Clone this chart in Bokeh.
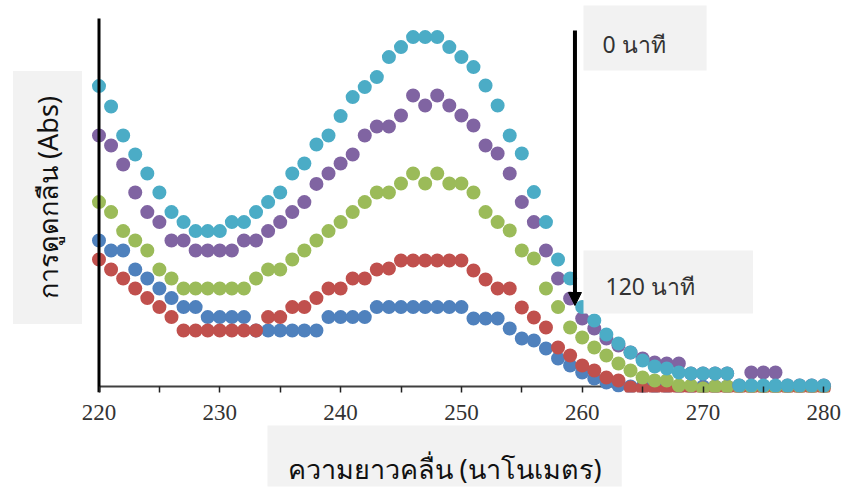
from bokeh.plotting import figure
from bokeh.models import Range1d, Label, Arrow, NormalHead, FixedTicker, Title
from bokeh.embed import file_html
from bokeh.resources import INLINE

# ---- data ----
wavelength = list(range(220, 281))

abs_0min = [1.502, 1.400, 1.255, 1.160, 1.065, 0.970, 0.872, 0.822, 0.777, 0.777,
            0.777, 0.822, 0.822, 0.872, 0.922, 0.970, 1.065, 1.115, 1.210, 1.255,
            1.352, 1.447, 1.497, 1.547, 1.647, 1.697, 1.747, 1.747, 1.747, 1.697,
            1.647, 1.597, 1.505, 1.405, 1.255, 1.165, 0.972, 0.822, 0.635, 0.540,
            0.397, 0.330, 0.260, 0.215, 0.170, 0.130, 0.100, 0.090, 0.070, 0.065,
            0.065, 0.065, 0.065, 0.005, 0.005, 0.005, 0.005, 0.005, 0.005, 0.005, 0.005]

abs_30min = [1.255, 1.205, 1.110, 0.970, 0.872, 0.822, 0.730, 0.730, 0.680, 0.680,
             0.680, 0.680, 0.730, 0.730, 0.777, 0.822, 0.872, 0.922, 1.013, 1.065,
             1.115, 1.160, 1.255, 1.300, 1.300, 1.355, 1.455, 1.405, 1.455, 1.405,
             1.355, 1.305, 1.205, 1.165, 1.065, 0.922, 0.822, 0.680, 0.540, 0.440,
             0.340, 0.290, 0.240, 0.205, 0.170, 0.140, 0.120, 0.115, 0.115, 0.065,
             0.065, 0.065, 0.065, 0.005, 0.070, 0.070, 0.070, 0.005, 0.005, 0.005, 0.005]

abs_60min = [0.922, 0.872, 0.777, 0.730, 0.680, 0.585, 0.540, 0.490, 0.490, 0.490,
             0.490, 0.490, 0.490, 0.540, 0.585, 0.585, 0.635, 0.680, 0.730, 0.777,
             0.822, 0.872, 0.922, 0.970, 0.970, 1.015, 1.065, 1.015, 1.065, 1.015,
             1.015, 0.970, 0.872, 0.822, 0.780, 0.680, 0.640, 0.490, 0.397, 0.295,
             0.245, 0.195, 0.155, 0.115, 0.080, 0.045, 0.030, 0.030, 0.005, 0.005,
             -0.010, 0.000, 0.000, 0.000, 0.000, 0.000, 0.000, 0.000, 0.000, 0.000, 0.000]

abs_90min = [0.635, 0.585, 0.540, 0.490, 0.442, 0.397, 0.347, 0.280, 0.280, 0.280,
             0.280, 0.280, 0.280, 0.280, 0.347, 0.347, 0.397, 0.397, 0.442, 0.490,
             0.490, 0.540, 0.540, 0.585, 0.590, 0.630, 0.630, 0.630, 0.630, 0.630,
             0.630, 0.580, 0.535, 0.490, 0.490, 0.395, 0.345, 0.295, 0.195, 0.155,
             0.105, 0.080, 0.045, 0.030, -0.005, -0.010, -0.010, -0.010, -0.010, -0.010,
             -0.010, -0.010, -0.010, -0.010, -0.010, -0.010, -0.010, -0.010, -0.010, -0.010, -0.010]

abs_120min = [0.730, 0.680, 0.680, 0.585, 0.540, 0.490, 0.442, 0.397, 0.397, 0.347,
              0.347, 0.347, 0.347, 0.280, 0.280, 0.280, 0.280, 0.280, 0.280, 0.347,
              0.347, 0.347, 0.347, 0.397, 0.397, 0.397, 0.397, 0.397, 0.397, 0.397,
              0.397, 0.340, 0.340, 0.340, 0.290, 0.240, 0.230, 0.190, 0.140, 0.105,
              0.070, 0.040, 0.020, 0.005, 0.000, 0.000, 0.000, 0.000, 0.000, 0.000,
              0.000, 0.000, 0.000, 0.000, 0.000, 0.000, 0.000, 0.000, 0.000, 0.000, 0.000]

# drawing order: bottom series first, 0 min on top
series = [abs_120min, abs_90min, abs_60min, abs_30min, abs_0min]
colors = ["#4F81BD", "#C0504D", "#9BBB59", "#8064A2", "#4BACC6"]

major_ticks = [220, 230, 240, 250, 260, 270, 280]
minor_ticks = [225, 235, 245, 255, 265, 275]

x_label = "ความยาวคลื่น (นาโนเมตร)"
y_label = "การดูดกลืน (Abs)"
note_start = "0 นาที"
note_end = "120 นาที"
arrow_x = 259.4
arrow_y_start = 1.78
arrow_y_end = 0.405
y_axis_x = 220
y_axis_bottom = -0.03
y_axis_top = 1.84
x_axis_start = 220
x_axis_end = 280.6

# ---- figure ----
p = figure(width=843, height=487, output_backend="svg", toolbar_location=None,
           x_range=Range1d(211.846, 280.72), y_range=Range1d(-0.03, 1.93),
           y_axis_location=None,
           min_border_left=0, min_border_right=11, min_border_top=0, min_border_bottom=95)
p.outline_line_color = None
p.xgrid.visible = False
p.ygrid.visible = False
p.background_fill_color = "white"
p.border_fill_color = "white"

ax = p.xaxis[0]
ax.ticker = FixedTicker(ticks=major_ticks, minor_ticks=minor_ticks)
ax.axis_line_color = None
ax.major_tick_in = 6
ax.major_tick_out = 0
ax.minor_tick_in = 6
ax.minor_tick_out = 0
ax.major_tick_line_color = "#222222"
ax.minor_tick_line_color = "#222222"
ax.major_tick_line_width = 1.5
ax.minor_tick_line_width = 1.5
ax.major_label_text_font = "Liberation Serif"
ax.major_label_text_font_size = "23px"
ax.major_label_text_color = "#333333"
ax.major_label_standoff = 12

# x axis line (under the dots)
p.segment(x0=[x_axis_start], y0=[0], x1=[x_axis_end], y1=[0],
          line_color="#404040", line_width=2)

for vals, c in zip(series, colors):
    p.scatter(wavelength, vals, size=14, fill_color=c, line_color=None)

# y axis line (over the dots)
p.segment(x0=[y_axis_x], y0=[y_axis_bottom], x1=[y_axis_x], y1=[y_axis_top],
          line_color="black", line_width=3)

# arrow
p.add_layout(Arrow(x_start=arrow_x, y_start=arrow_y_start, x_end=arrow_x, y_end=arrow_y_end,
                   line_color="black", line_width=4,
                   end=NormalHead(size=13, fill_color="black", line_color="black")))

box = "#F2F2F2"
# y axis title (inside the frame's left margin area)
p.add_layout(Label(x=47, y=195, x_units="screen", y_units="screen", text=y_label,
                   angle=90, angle_units="deg", text_align="center", text_baseline="middle",
                   text_font="Noto Sans", text_font_size="27px", text_color="#111111",
                   background_fill_color=box,
                   padding=dict(left=25, right=25, top=16, bottom=16)))
# x axis title in a side panel
p.add_layout(Title(text=x_label, align="left", offset=267, text_font="Noto Sans",
                   text_font_size="27px", text_font_style="normal", text_color="#111111",
                   background_fill_color=box, standoff=2,
                   padding=dict(left=20, right=20, top=24, bottom=0)), "below")

# notes (anchor is the box corner / box middle)
p.add_layout(Label(x=583, y=354.5, x_units="screen", y_units="screen", text=note_start,
                   text_align="left", text_baseline="middle",
                   text_font="Noto Sans", text_font_size="23px", text_color="#333333",
                   background_fill_color=box,
                   padding=dict(left=19, right=41, top=22, bottom=11)))
p.add_layout(Label(x=583, y=110.5, x_units="screen", y_units="screen", text=note_end,
                   text_align="left", text_baseline="middle",
                   text_font="Noto Sans", text_font_size="23px", text_color="#333333",
                   background_fill_color=box,
                   padding=dict(left=22, right=58, top=19, bottom=12)))

open("out.html", "w").write(file_html(p, INLINE))
